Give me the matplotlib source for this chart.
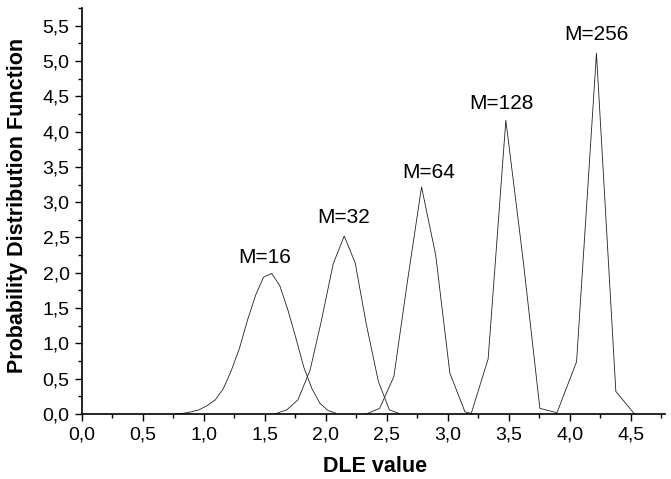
import matplotlib
matplotlib.use("Agg")
import matplotlib.pyplot as plt
from matplotlib.ticker import MultipleLocator, FuncFormatter

# PDF curves (DLE value, PDF)
x16 = [0.763, 0.829, 0.895, 0.961, 1.027, 1.093, 1.159, 1.225, 1.291, 1.357, 1.423,
       1.489, 1.555, 1.621, 1.687, 1.753, 1.819, 1.885, 1.951, 2.017, 2.083]
y16 = [0.0, 0.01, 0.03, 0.06, 0.12, 0.20, 0.36, 0.62, 0.93, 1.33, 1.68,
       1.94, 1.99, 1.82, 1.48, 1.08, 0.66, 0.36, 0.15, 0.05, 0.01]
x32 = [1.58, 1.68, 1.77, 1.87, 1.96, 2.06, 2.15, 2.24, 2.33, 2.43, 2.52, 2.61]
y32 = [0.0, 0.06, 0.20, 0.62, 1.30, 2.13, 2.52, 2.14, 1.28, 0.46, 0.06, 0.0]
x64 = [2.33, 2.44, 2.557, 2.67, 2.784, 2.90, 3.016, 3.14, 3.21]
y64 = [0.0, 0.08, 0.53, 1.90, 3.215, 2.25, 0.58, 0.03, 0.0]
x128 = [3.19, 3.33, 3.475, 3.617, 3.754, 3.89]
y128 = [0.0, 0.78, 4.16, 2.18, 0.08, 0.02]
x256 = [3.89, 4.055, 4.218, 4.377, 4.53]
y256 = [0.0, 0.74, 5.11, 0.32, 0.0]

labels = ["M=16", "M=32", "M=64", "M=128", "M=256"]
label_pos = [(1.50, 2.22), (2.143, 2.78), (2.845, 3.42), (3.44, 4.40), (4.22, 5.37)]

plt.rcParams["font.family"] = ["Liberation Sans", "DejaVu Sans"]

fig = plt.figure(figsize=(6.71, 4.79), dpi=100)
ax = fig.add_axes([82/671, 65/479, 583/671, 406/479])

for xs, ys in [(x16, y16), (x32, y32), (x64, y64), (x128, y128), (x256, y256)]:
    ax.plot(xs, ys, color="#222222", lw=0.6)

for txt, (tx, ty) in zip(labels, label_pos):
    ax.text(tx, ty, txt, ha="center", va="center", fontsize=15)

ax.set_xlim(0, 4.78)
ax.set_ylim(0, 5.75)
ax.xaxis.set_major_locator(MultipleLocator(0.5))
ax.xaxis.set_minor_locator(MultipleLocator(0.25))
ax.yaxis.set_major_locator(MultipleLocator(0.5))
ax.yaxis.set_minor_locator(MultipleLocator(0.25))
comma = FuncFormatter(lambda v, p: f"{v:.1f}".replace(".", ","))
ax.xaxis.set_major_formatter(comma)
ax.yaxis.set_major_formatter(comma)
ax.tick_params(which="major", direction="out", length=5, width=1, labelsize=14, pad=4)
ax.tick_params(which="minor", direction="out", length=3, width=1)
ax.spines["top"].set_visible(False)
ax.spines["right"].set_visible(False)
for sp in ("left", "bottom"):
    ax.spines[sp].set_linewidth(1.2)

ax.set_xlabel("DLE value", fontsize=15.5, fontweight="bold")
ax.set_ylabel("Probability Distribution Function", fontsize=15.5, fontweight="bold")
ax.xaxis.set_label_coords((375 - 82) / 583, (414 - 467) / 406)
ax.yaxis.set_label_coords((18 - 82) / 583, (414 - 205) / 406)
ax.xaxis.label.set_va("center")
ax.yaxis.label.set_va("center")

fig.savefig("out.png", dpi=100)
